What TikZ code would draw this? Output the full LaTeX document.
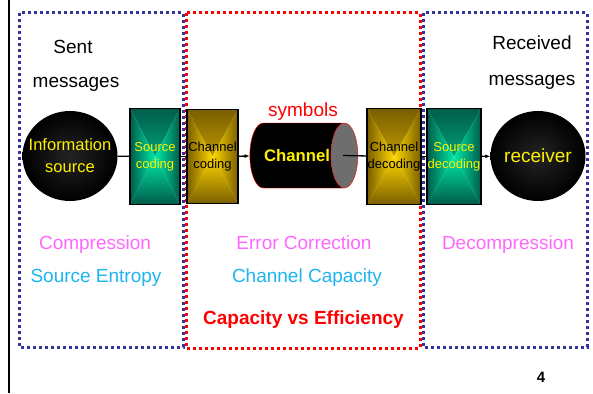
\documentclass[tikz,border=0pt]{standalone}
\usepackage{fontspec}
\setmainfont{Liberation Sans}
\usetikzlibrary{shapes.geometric,arrows.meta,positioning,calc}

\definecolor{dotblue}{HTML}{333399}
\definecolor{pinktxt}{HTML}{FF66FF}
\definecolor{cyantxt}{HTML}{1EB4F0}
\definecolor{tealdark}{HTML}{005C4A}
\definecolor{teallight}{HTML}{00E8A6}
\definecolor{golddark}{HTML}{7A5E00}
\definecolor{goldlight}{HTML}{FFD700}
\definecolor{ballinner}{HTML}{242424}
\definecolor{endgray}{HTML}{6E6E6E}

\tikzset{
  big/.style={font=\fontsize{19}{23}\selectfont},
  dotframe/.style={line width=3pt, dash pattern=on 3pt off 3pt},
  ball/.style={ellipse, minimum width=95pt, minimum height=90pt, inner sep=-16pt,
    shading=radial, inner color=ballinner, outer color=black, text=yellow, align=center},
  gradbox/.style 2 args={draw=black, line width=1.4pt, minimum width=52pt, minimum height=96pt,
    inner sep=0pt, align=center, font=\fontsize{13}{17}\selectfont,
    path picture={
      \shade[top color=#1, bottom color=#2] (path picture bounding box.north west) -- (path picture bounding box.north east) -- (path picture bounding box.center) -- cycle;
      \shade[top color=#2, bottom color=#1] (path picture bounding box.south west) -- (path picture bounding box.south east) -- (path picture bounding box.center) -- cycle;
      \shade[left color=#1, right color=#2] (path picture bounding box.north west) -- (path picture bounding box.south west) -- (path picture bounding box.center) -- cycle;
      \shade[left color=#2, right color=#1] (path picture bounding box.north east) -- (path picture bounding box.south east) -- (path picture bounding box.center) -- cycle;}},
  tealbox/.style={gradbox={tealdark}{teallight}, text=yellow},
  goldbox/.style={gradbox={golddark}{goldlight}, text=black},
  link/.style={line width=1.3pt},
}

\begin{document}
\begin{tikzpicture}[x=1pt, y=-1pt, >=latex]
    \useasboundingbox (0,0) rectangle (593,393);
    \draw [line width=2pt] (9,0) -- (9,393);

    % the three parts
    \draw [dotframe, dotblue] (19,13) rectangle (183,347);
    \draw [dotframe, red] (186,13) rectangle (420,348);
    \draw [dotframe, dotblue] (423,13) rectangle (587,347);

    % chain
    \node [ball, font=\fontsize{16.5}{22}\selectfont] (src) at (70,156) {Information\\source};
    \node [tealbox, minimum width=50pt] (srccod) at (155,156.5) {Source\\coding};
    \node [goldbox, minimum width=51pt, minimum height=94pt] (chcod) at (212.5,156.5) {Channel\\coding};
    \node [cylinder, shape border rotate=0, aspect=2.2, minimum width=65pt, minimum height=108pt,
        inner sep=0pt, draw=red, thin, cylinder uses custom fill, cylinder body fill=black, cylinder end fill=endgray,
        text=yellow, font=\bfseries\fontsize{16.7}{20}\selectfont] (chan) at (297,155.5) {Channel};
    \node [goldbox, minimum width=54pt] (chdec) at (394,156.5) {Channel\\decoding};
    \node [tealbox, minimum width=54pt] (srcdec) at (454,156.5) {Source\\decoding};
    \node [ball, big] (rcv) at (538,156) {receiver};

    \draw [link] (src) -- (srccod);
    \draw [link] (srccod) -- (chcod);
    \draw [link, -{Latex[length=5pt,width=4pt]}] (chcod) -- (chan);
    \draw [link] ($(chan.top)+(-15,0)$) -- (chdec);
    \draw [link] (chdec) -- (srcdec);
    \draw [link, -{Latex[length=5pt,width=4pt]}] (srcdec) -- (rcv);

    % texts
    \node [big, anchor=base] (sent) at (73,54) {Sent};
    \node [big, anchor=base] (sentmsg) at (76,88) {messages};
    \node [big, anchor=base] (recd) at (532,50) {Received};
    \node [big, anchor=base] (recdmsg) at (532,86) {messages};
    \node [big, anchor=base, text=red] (symb) at (303,116) {symbols};

    \node [big, anchor=base, text=pinktxt] (compr) at (95,249) {Compression};
    \node [big, anchor=base, text=cyantxt] (srcent) at (96,282) {Source Entropy};
    \node [big, anchor=base, text=pinktxt] (errcor) at (304,249) {Error Correction};
    \node [big, anchor=base, text=cyantxt] (chcap) at (307,282) {Channel Capacity};
    \node [big, anchor=base, text=red, font=\bfseries\fontsize{19}{23}\selectfont] (capeff) at (303.5,324) {Capacity vs Efficiency};
    \node [big, anchor=base, text=pinktxt] (decompr) at (508,249) {Decompression};

    \node [anchor=base, font=\bfseries\fontsize{15}{18}\selectfont] (pagenum) at (541,382) {4};
\end{tikzpicture}
\end{document}
